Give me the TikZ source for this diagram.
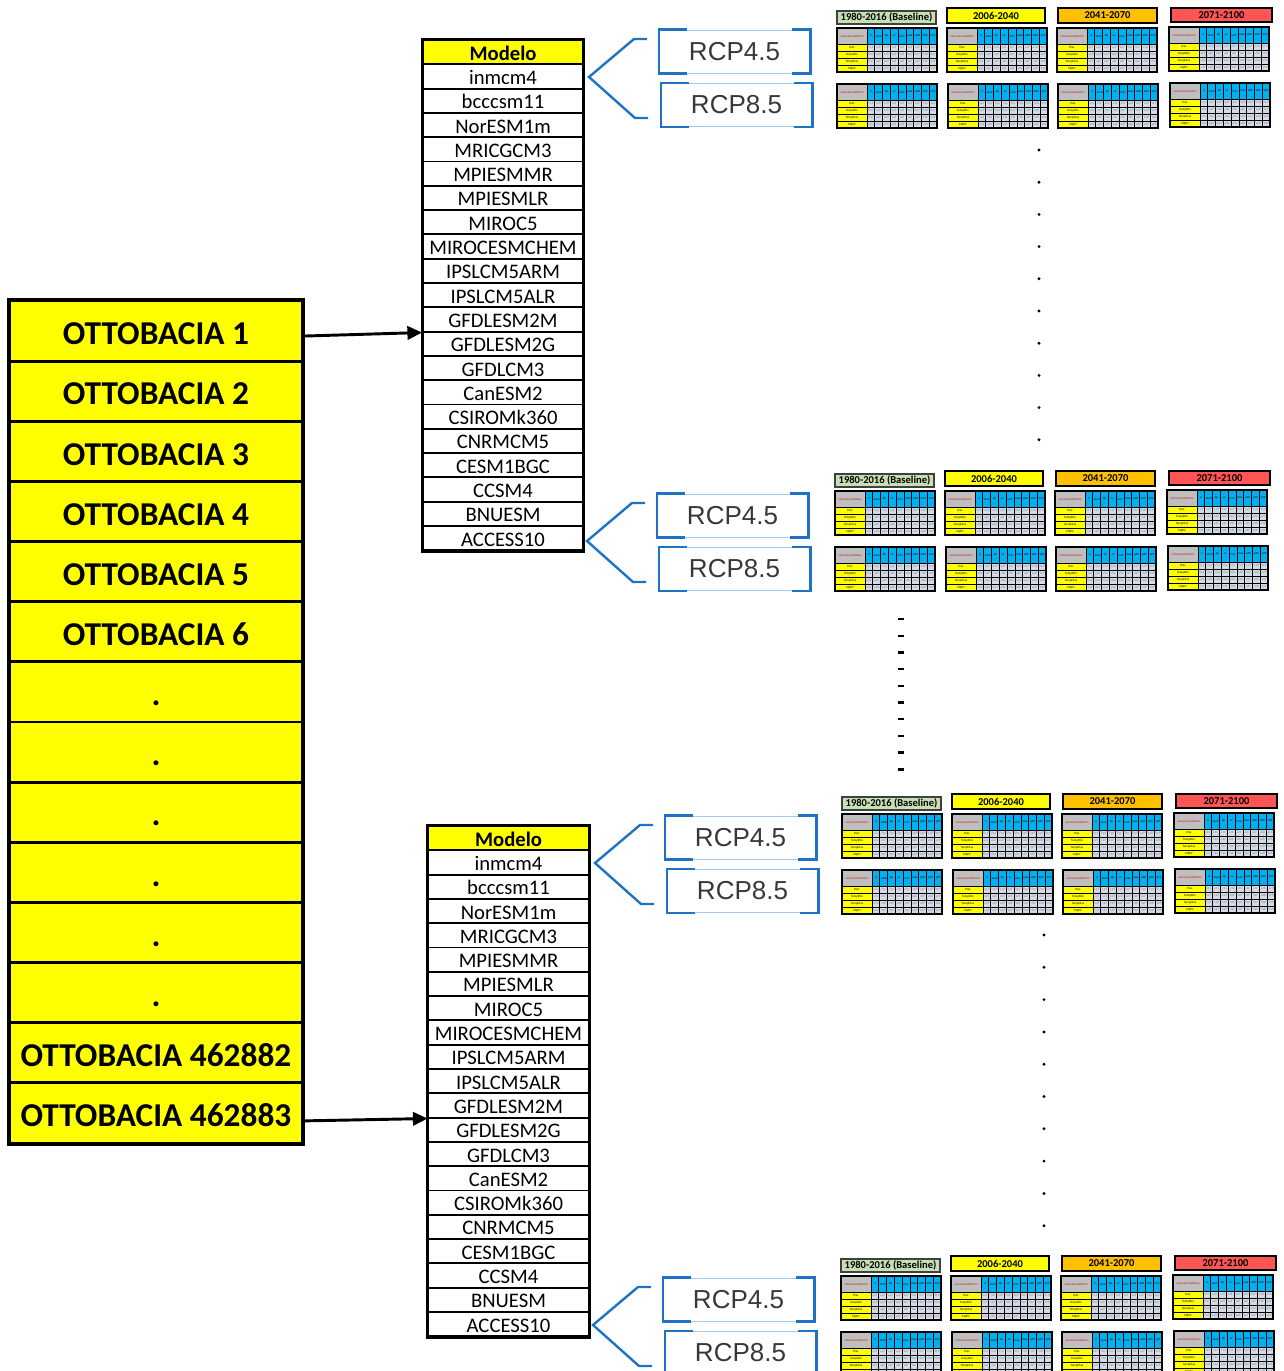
\documentclass[tikz,border=0pt]{standalone}
\usepackage{fontspec}
\setmainfont{Carlito}
\newfontfamily\rcpfont{Liberation Sans}
\usetikzlibrary{arrows.meta,positioning,calc}
\definecolor{ottoyellow}{rgb}{1, 1, 0}
\definecolor{rcpblue}{RGB}{31, 115, 196}
\definecolor{rcplight}{RGB}{170, 200, 232}
\definecolor{basegreen}{RGB}{198, 224, 180}
\definecolor{perorange}{RGB}{255, 192, 0}
\definecolor{perred}{RGB}{255, 85, 85}
\definecolor{headblue}{RGB}{0, 176, 240}
\definecolor{headgray}{RGB}{191, 191, 191}
\definecolor{cellgray}{RGB}{212, 218, 230}
\definecolor{statred}{RGB}{200, 20, 20}

\tikzset{
  ottobox/.style={draw, fill=ottoyellow, line width=2.2pt, minimum width=219pt, minimum height=45.1pt,
    inner sep=0pt, font=\fontsize{25}{28}\selectfont\bfseries, text height=25.6pt, text depth=5pt},
  modelrow/.style={draw, line width=1.4pt, minimum width=120pt, minimum height=18.2pt, inner sep=0pt,
    font=\fontsize{15.5}{17}\selectfont, text height=15pt, text depth=3pt},
  flowarrow/.style={line width=2.2pt, -{Triangle[length=11pt, width=10pt]}},
  rcpbrace/.style={draw=rcpblue, line width=1.8pt},
  rcpbox/.style={draw=rcplight, line width=0.6pt, minimum width=113pt, minimum height=32.2pt, inner sep=0pt,
    font=\rcpfont\fontsize{19.5}{22}\selectfont, text=black!78},
  rcpline/.style={draw=rcpblue, line width=1.9pt},
  titlebox/.style={draw, line width=1.1pt},
  titletext/.style={inner sep=0pt, font=\fontsize{7.9}{9}\selectfont\bfseries},
  tinytext/.style={inner sep=0pt, font=\fontsize{2.3}{2.5}\selectfont},
  gridline/.style={line width=0.45pt}
}

% bracket frame of a RCP box
\newcommand{\rcpframe}[1]{%
  \draw[rcpline] ([xshift=21pt]#1.north west) -- (#1.north west) -- (#1.south west) -- ([xshift=21pt]#1.south west);
  \draw[rcpline] ([xshift=-13.5pt]#1.north east) -- (#1.north east) -- (#1.south east) -- ([xshift=-13.5pt]#1.south east);}

% brace and the two scenarios, #2,#3 = tip of the brace
\newcommand{\rcpset}[3]{%
  \begin{scope}[shift={(#2,#3)}]
    \draw[rcpbrace] (58,-38) -- (45,-38) -- (0,0) -- (46,41) -- (59,41);
    \node[rcpbox] (#1-45) at (145.5,-25.5) {RCP4.5};
    \node[rcpbox] (#1-85) at (147.5,28) {RCP8.5};
  \end{scope}
  \rcpframe{#1-45}\rcpframe{#1-85}}

% one small table of statistics, #2,#3 = top left
\newcommand{\statgrid}[3]{%
  \begin{scope}[shift={(#2,#3)}]
    \fill[headgray] (0,0) rectangle (30,16);
    \fill[headblue] (30,0) rectangle (100,16);
    \fill[ottoyellow] (0,16) rectangle (30,44);
    \fill[cellgray] (30,16) rectangle (100,44);
    \foreach \c in {0,...,8} \draw[gridline] ({30+\c*70/9},0) -- ({30+\c*70/9},44);
    \foreach \r in {0,...,3} \draw[gridline] (0,{16+\r*7}) -- (100,{16+\r*7});
    \draw[line width=1.2pt] (0,0) rectangle (100,44);
    \node[tinytext, text=statred] (#1-lab) at (15,8) {variavel/estatistica};
    \foreach \h [count=\i] in {n,med,dp,cv,min,max,q50,q25,q75}
      \node[tinytext] (#1-h\i) at ({30+(\i-0.5)*70/9},8) {\h};
    \foreach \v [count=\j] in {Prec,TempMin,TempMax,EtpPV}{
      \node[tinytext] (#1-v\j) at (15,{16+(\j-0.5)*7}) {\v};
      \foreach \i in {1,...,9}
        \node[tinytext, text=black!50] (#1-c\j\i) at ({30+(\i-0.5)*70/9},{16+(\j-0.5)*7}) {x\j\i};
    }
  \end{scope}}

% periods with their tables, #2,#3 = top left
\newcommand{\periodset}[3]{%
  \begin{scope}[shift={(#2,#3)}]
    \draw[titlebox, draw=black!75, fill=basegreen] (0,3) rectangle (99,16);
    \node[titletext] (#1-t1) at (49.5,9.5) {1980-2016 (Baseline)};
    \draw[titlebox, fill=ottoyellow] (110,0) rectangle (208,15);
    \node[titletext] (#1-t2) at (159,7.5) {2006-2040};
    \draw[titlebox, fill=perorange] (221,0) rectangle (320,15);
    \node[titletext] (#1-t3) at (270.5,7.5) {2041-2070};
    \draw[titlebox, fill=perred] (334,0) rectangle (435,14);
    \node[titletext] (#1-t4) at (384.5,7) {2071-2100};
  \end{scope}
  \statgrid{#1-a1}{#2}{#3+20}\statgrid{#1-a2}{#2+110}{#3+20}\statgrid{#1-a3}{#2+220}{#3+20}\statgrid{#1-a4}{#2+332}{#3+19}
  \statgrid{#1-b1}{#2}{#3+76}\statgrid{#1-b2}{#2+111}{#3+76}\statgrid{#1-b3}{#2+221}{#3+76}\statgrid{#1-b4}{#2+333}{#3+75}}

\begin{document}
\begin{tikzpicture}[x=0.75pt,y=0.75pt,yscale=-1,xscale=1]
  \useasboundingbox (0,0) rectangle (1284,1371);
  \clip (0,0) rectangle (1284,1371);

  %Shape: sub-basins column
  \foreach \lab [count=\k] in {OTTOBACIA 1,OTTOBACIA 2,OTTOBACIA 3,OTTOBACIA 4,OTTOBACIA 5,OTTOBACIA 6,.,.,.,.,.,.,OTTOBACIA 462882,OTTOBACIA 462883}
    \node[ottobox] (ob\k) at (156,{301+60.14*\k-30.07}) {\lab};
  \draw[line width=3pt] (ob1.north west) rectangle (ob14.south east);

  %Shape: model tables
  \node[modelrow, fill=ottoyellow, font=\fontsize{15.5}{17}\selectfont\bfseries] (mA0) at (503,52.15) {Modelo};
  \node[modelrow, fill=ottoyellow, font=\fontsize{15.5}{17}\selectfont\bfseries] (mB0) at (508.5,838.15) {Modelo};
  \foreach \mod [count=\k] in {inmcm4,bcccsm11,NorESM1m,MRICGCM3,MPIESMMR,MPIESMLR,MIROC5,MIROCESMCHEM,IPSLCM5ARM,IPSLCM5ALR,GFDLESM2M,GFDLESM2G,GFDLCM3,CanESM2,CSIROMk360,CNRMCM5,CESM1BGC,CCSM4,BNUESM,ACCESS10}{
    \node[modelrow] (mA\k) at (503,{52.15+24.3*\k}) {\mod};
    \node[modelrow] (mB\k) at (508.5,{838.15+24.3*\k}) {\mod};
  }
  \draw[line width=2pt] (mA0.north west) rectangle (mA20.south east);
  \draw[line width=2pt] (mB0.north west) rectangle (mB20.south east);

  %Straight Lines: arrows
  \draw[flowarrow] ([yshift=3.75pt]ob1.east) -- (mA11.south west);
  \draw[flowarrow] ([yshift=6pt]ob14.east) -- (mB11.south west);

  %Shape: scenarios
  \rcpset{rA}{589}{77}
  \rcpset{rB}{587}{541}
  \rcpset{rC}{595}{863}
  \rcpset{rD}{593}{1325}

  %Shape: period tables
  \periodset{pA}{837}{8}
  \periodset{pB}{835}{471}
  \periodset{pC}{842}{794}
  \periodset{pD}{841}{1256}

  % dots and dashes
  \foreach \k in {0,...,9}{
    \fill (1039,{150+32.2*\k}) circle (1.6);
    \draw[line width=1.8pt] (898,{619+16.7*\k}) -- (904,{619+16.7*\k});
    \fill (1044,{935+32.3*\k}) circle (1.6);
  }
\end{tikzpicture}
\end{document}
